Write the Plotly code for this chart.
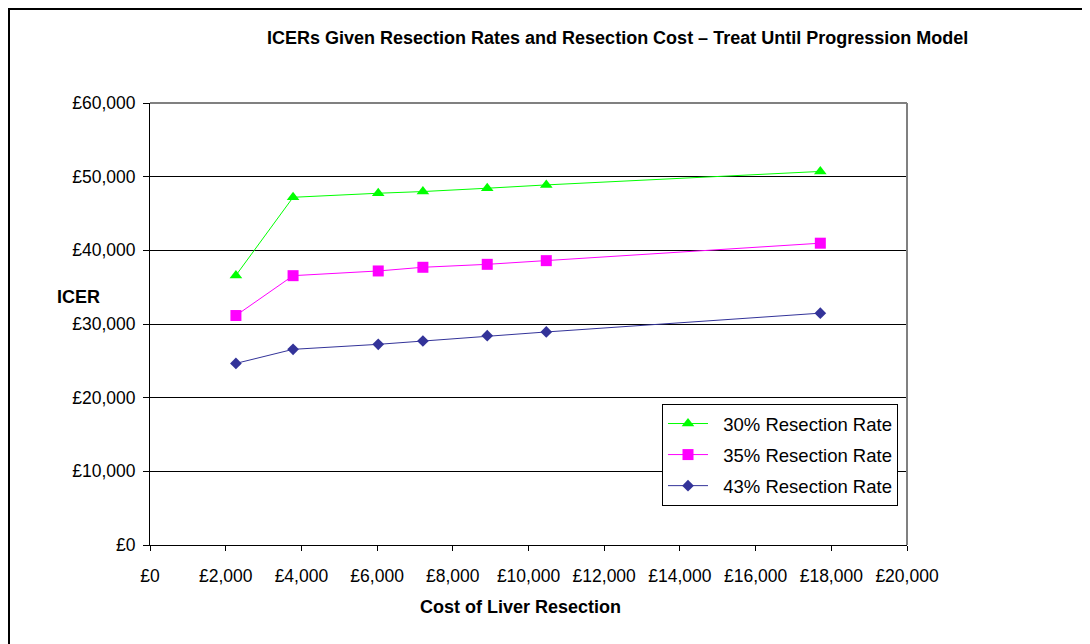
import plotly.graph_objects as go

cost = [2270, 3780, 6030, 7210, 8910, 10470, 17710]
icer_30 = [36600, 47200, 47750, 47980, 48430, 48880, 50710]
icer_35 = [31150, 36560, 37200, 37700, 38100, 38600, 40970]
icer_43 = [24650, 26560, 27240, 27690, 28420, 28920, 31470]

series = [
    ("30% Resection Rate", icer_30, "#00FF00", "triangle-up", 11),
    ("35% Resection Rate", icer_35, "#FF00FF", "square", 11),
    ("43% Resection Rate", icer_43, "#333399", "diamond", 9),
]

x_ticks = list(range(0, 20001, 2000))
y_ticks = list(range(0, 60001, 10000))

# page has an 8px body margin; work in figure coordinates
W, H = 1090, 644
L, R, T, B = 142, 899, 95, 537
pw, ph = R - L, B - T


def px(x):
    return (x - L) / pw


def py(y):
    return (B - y) / ph


fig = go.Figure()
for i, (name, vals, col, sym, sz) in enumerate(series):
    fig.add_trace(go.Scatter(
        x=cost, y=vals, name="  " + name, mode="lines+markers",
        legendgroup=str(i),
        line=dict(color=col, width=1),
        marker=dict(symbol=sym, size=sz, color=col),
    ))

font = "Liberation Sans, Arial, sans-serif"
fig.update_layout(
    width=W, height=H,
    margin=dict(l=L, r=W - R, t=T, b=H - B),
    paper_bgcolor="white", plot_bgcolor="white",
    font=dict(family=font, size=18, color="black"),
    showlegend=True,
    legend=dict(
        x=px(654), y=py(396), xanchor="left", yanchor="top",
        bgcolor="white", bordercolor="black", borderwidth=1,
        font=dict(size=18.5, family=font), tracegroupgap=4,
        itemwidth=40,
    ),
    xaxis=dict(
        range=[0, 20000], tickvals=x_ticks,
        ticktext=["£{:,}".format(v) for v in x_ticks],
        showgrid=False, zeroline=False, showline=True, linecolor="black", linewidth=1,
        ticks="outside", ticklen=5, tickcolor="black",
        tickfont=dict(size=17.5), ticklabelstandoff=10,
        fixedrange=True,
    ),
    yaxis=dict(
        range=[0, 60000], tickvals=y_ticks,
        ticktext=["£{:,}".format(v) for v in y_ticks],
        showgrid=True, gridcolor="black", gridwidth=1, zeroline=False,
        showline=True, linecolor="black", linewidth=1,
        ticks="outside", ticklen=6, tickcolor="black",
        tickfont=dict(size=17.5), ticklabelstandoff=4,
        fixedrange=True,
    ),
)

# grey border on top and right of the plot area
fig.add_shape(type="line", xref="paper", yref="paper", x0=0, x1=1, y0=1, y1=1,
              line=dict(color="#808080", width=2))
fig.add_shape(type="line", xref="paper", yref="paper", x0=1, x1=1, y0=0, y1=1,
              line=dict(color="#808080", width=2))

# outer chart border
fig.add_shape(type="rect", xref="paper", yref="paper",
              x0=px(1), x1=px(W + 20), y0=py(H + 20), y1=py(1),
              line=dict(color="black", width=2), layer="below")

fig.add_annotation(text="<b>ICERs Given Resection Rates and Resection Cost – Treat Until Progression Model</b>",
                   xref="paper", yref="paper", x=px(609), y=py(30),
                   xanchor="center", yanchor="middle",
                   showarrow=False, font=dict(size=18, family=font))
fig.add_annotation(text="<b>Cost of Liver Resection</b>", xref="paper", yref="paper",
                   x=px(512), y=py(599), xanchor="center", yanchor="middle",
                   showarrow=False, font=dict(size=18, family=font))
fig.add_annotation(text="<b>ICER</b>", xref="paper", yref="paper",
                   x=px(70), y=py(289), xanchor="center", yanchor="middle",
                   showarrow=False, font=dict(size=18, family=font))

fig.write_html("out.html")
